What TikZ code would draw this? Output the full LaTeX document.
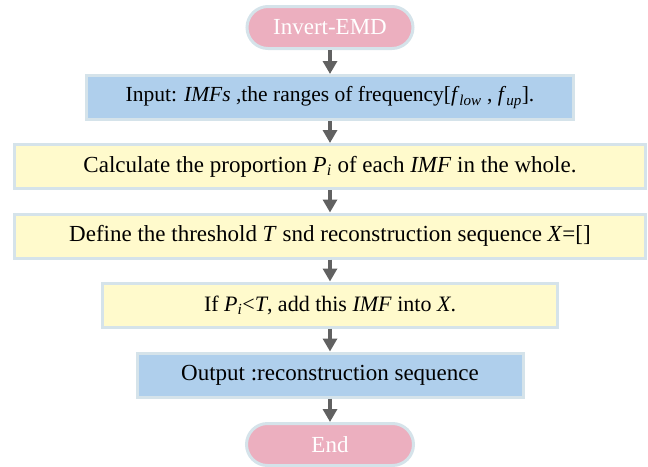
\documentclass[tikz,border=0pt]{standalone}
\usepackage{fontspec}
\setmainfont{Liberation Serif}
\usetikzlibrary{arrows.meta}
\definecolor{bordc}{HTML}{D5E3EA}
\definecolor{bluef}{HTML}{AFCFEC}
\definecolor{yellowf}{HTML}{FFFACC}
\definecolor{pinkf}{HTML}{ECAFBF}
\definecolor{arrc}{HTML}{616161}
\newcommand{\myit}[1]{\textit{#1}}
\newcommand{\mysub}[1]{\textsubscript{\textit{#1}}}
\begin{document}
\begin{tikzpicture}[x=1pt,y=-1pt,
  basebox/.style={draw=bordc, line width=3pt, inner sep=0pt, minimum height=44pt, text=black, font=\fontsize{23}{26}\selectfont},
  bluebox/.style={basebox, fill=bluef},
  yellowbox/.style={basebox, fill=yellowf},
  pill/.style={draw=bordc, line width=3pt, inner sep=0pt, fill=pinkf, minimum height=42pt, minimum width=166pt, rounded corners=21pt, text=white, font=\fontsize{23}{26}\selectfont},
  arr/.style={draw=arrc, line width=3.5pt, -{Triangle[length=13pt,width=14pt]}}]
\useasboundingbox (0,0) rectangle (648,466);
\node[pill] (start) at (330,27.5) {Invert-EMD};
\node[bluebox, minimum width=487pt, font=\fontsize{21.5}{25}\selectfont] (input) at (330,97.5) {Input: \myit{IMFs} ,the ranges of frequency[\myit{f}\mysub{low} , \myit{f}\mysub{up}].};
\node[yellowbox, minimum width=631pt] (calc) at (330,166.5) {Calculate the proportion \myit{P}\mysub{i} of each \myit{IMF} in the whole.};
\node[yellowbox, minimum width=631pt] (define) at (330,236) {Define the threshold \myit{T} snd reconstruction sequence \myit{X}=[]};
\node[yellowbox, minimum width=455pt, font=\fontsize{22}{25}\selectfont] (cond) at (330,305) {If \myit{P}\mysub{i}<\myit{T}, add this \myit{IMF} into \myit{X}.};
\node[bluebox, minimum width=386pt] (output) at (330,375) {Output :reconstruction sequence};
\node[pill, minimum width=167pt] (stop) at (330,444.5) {End};
\draw[arr] (start) -- (input);
\draw[arr] (input) -- (calc);
\draw[arr] (calc) -- (define);
\draw[arr] (define) -- (cond);
\draw[arr] (cond) -- (output);
\draw[arr] (output) -- (stop);
\end{tikzpicture}
\end{document}
